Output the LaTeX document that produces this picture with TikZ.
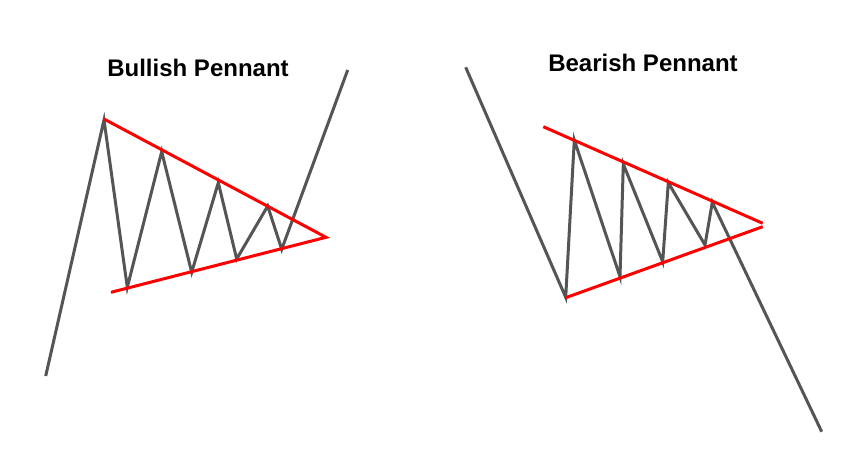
\documentclass[tikz,border=0pt]{standalone}
\usepackage{fontspec}
\setmainfont{Liberation Sans}
\definecolor{trend}{HTML}{555555}
\definecolor{bound}{HTML}{FF0000}
\tikzset{
  price/.style={draw=trend, line width=3pt, line join=miter, line cap=butt},
  bline/.style={draw=bound, line width=3pt, line cap=butt},
  ttl/.style={font=\fontsize{24}{28}\selectfont\bfseries, text=black, inner sep=0pt}
}
\begin{document}
\begin{tikzpicture}[x=1pt,y=-1pt]
\useasboundingbox[fill=white] (0,0) rectangle (856,464);
% titles
\node[ttl] (t1) at (198,68) {Bullish Pennant};
\node[ttl] (t2) at (643,62.5) {Bearish Pennant};
% bullish coordinates
\coordinate (a0) at (45.7,376);
\coordinate (a1) at (104,120);
\coordinate (a2) at (127.3,287.3);
\coordinate (a3) at (161.7,151.7);
\coordinate (a4) at (191.7,272.3);
\coordinate (a5) at (218.3,182.7);
\coordinate (a6) at (236.7,259);
\coordinate (a7) at (267.7,206);
\coordinate (a8) at (281.7,249.3);
\coordinate (a9) at (347.7,70);
\coordinate (au) at (104,119);
\coordinate (ax) at (326,237.3);
\coordinate (al) at (111,292.3);
% bearish coordinates
\coordinate (b0) at (465.7,67.3);
\coordinate (b1) at (565.7,297.3);
\coordinate (b2) at (574.3,140);
\coordinate (b3) at (620,276.7);
\coordinate (b4) at (623.3,164);
\coordinate (b5) at (662.7,261.7);
\coordinate (b6) at (668.3,182.7);
\coordinate (b7) at (705,245);
\coordinate (b8) at (712.3,202.3);
\coordinate (b9) at (821.7,431.7);
\coordinate (bu) at (543.3,126.7);
\coordinate (bux) at (762.7,223.3);
\coordinate (bl) at (565.7,297.7);
\coordinate (blx) at (762.7,226.7);
% bullish
\draw[price] (a0) -- (a1) -- (a2) -- (a3) -- (a4) -- (a5) -- (a6) -- (a7) -- (a8) -- (a9);
\draw[bline] (au) -- (ax) -- (al);
% bearish
\draw[price] (b0) -- (b1) -- (b2) -- (b3) -- (b4) -- (b5) -- (b6) -- (b7) -- (b8) -- (b9);
\draw[bline] (bu) -- (bux);
\draw[bline] (bl) -- (blx);
\end{tikzpicture}
\end{document}
